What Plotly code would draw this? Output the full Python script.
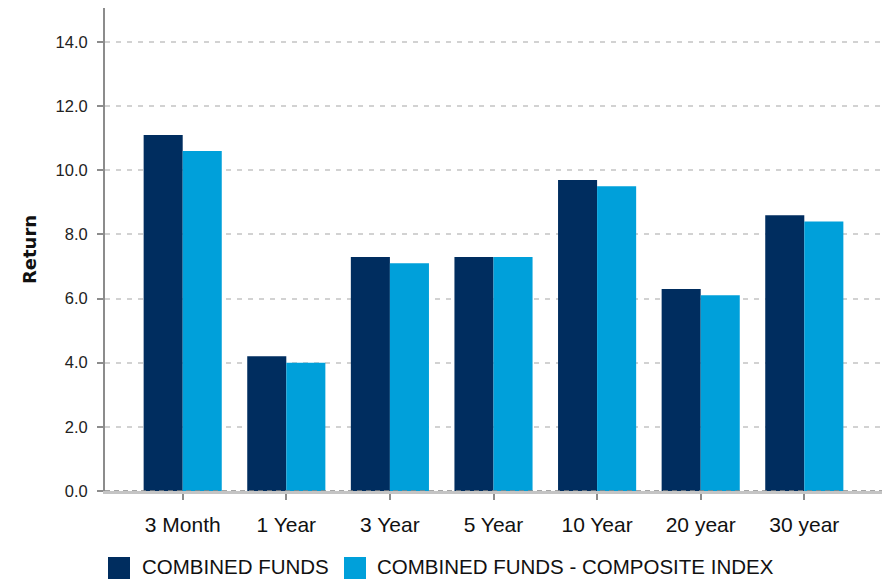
import plotly.graph_objects as go

# Period returns for the combined funds and their composite benchmark
periods = ["3 Month", "1 Year", "3 Year", "5 Year", "10 Year", "20 year", "30 year"]
combined_funds = [11.1, 4.2, 7.3, 7.3, 9.7, 6.3, 8.6]
composite_index = [10.6, 4.0, 7.1, 7.3, 9.5, 6.1, 8.4]
y_ticks = [0, 2, 4, 6, 8, 10, 12, 14]
series_names = ["COMBINED FUNDS", "COMBINED FUNDS - COMPOSITE INDEX"]

DARK = "#002d5f"
LIGHT = "#00a0da"
SANS = "Liberation Sans, Arial, sans-serif"

fig = go.Figure()
fig.add_trace(go.Bar(x=periods, y=combined_funds, name=series_names[0],
                     marker=dict(color=DARK, line=dict(width=0))))
fig.add_trace(go.Bar(x=periods, y=composite_index, name=series_names[1],
                     marker=dict(color=LIGHT, line=dict(width=0))))

fig.update_layout(
    width=888, height=579,
    margin=dict(l=105, r=6, t=8, b=88),
    paper_bgcolor="white", plot_bgcolor="white",
    barmode="group", bargap=0.246, bargroupgap=0,
    showlegend=False,
    font=dict(family=SANS, color="#222"),
)

fig.update_xaxes(
    range=[-0.75, 6.75],
    showgrid=False,
    showline=True, linecolor="#c4c4c4", linewidth=3,
    ticks="outside", ticklen=6, tickwidth=2, tickcolor="#8c8c8c",
    tickfont=dict(family=SANS, size=21, color="#111"),
    ticklabelstandoff=7,
)

fig.update_yaxes(
    range=[0, 15.06],
    tickvals=y_ticks,
    ticktext=[f"{v:.1f}" for v in y_ticks],
    showgrid=True, gridcolor="#d2d2d2", gridwidth=1.5, griddash="5px,6px",
    zeroline=False,
    showline=True, linecolor="#8c8c8c", linewidth=2,
    ticks="outside", ticklen=6, tickwidth=2, tickcolor="#8c8c8c",
    tickfont=dict(family=SANS, size=16.5, color="#222"),
    ticklabelstandoff=6,
    title=dict(text="<b>Return</b>",
               font=dict(family="DejaVu Sans, sans-serif", size=18, color="#111"),
               standoff=14),
)

# Dashed baseline along zero
fig.add_shape(type="line", xref="paper", yref="y", x0=0, x1=1, y0=0, y1=0,
              line=dict(color="#888888", width=1.5, dash="5px,4px"))

# Legend swatches and labels below the axis
legend_items = [(series_names[0], DARK, 108, 141), (series_names[1], LIGHT, 344, 376)]
for label, color, sx, tx in legend_items:
    fig.add_shape(type="rect", xref="paper", yref="paper",
                  x0=(sx - 105) / 777, x1=(sx + 22 - 105) / 777,
                  y0=-(579 - 491) / 483, y1=-(557 - 491) / 483,
                  fillcolor=color, line=dict(width=0))
    fig.add_annotation(text=label, xref="paper", yref="paper",
                       x=(tx - 105) / 777, y=-(566 - 491) / 483,
                       xanchor="left", yanchor="middle", showarrow=False,
                       xshift=-1,
                       font=dict(family=SANS, size=20.5, color="#111"))

fig.write_html("out.html")
